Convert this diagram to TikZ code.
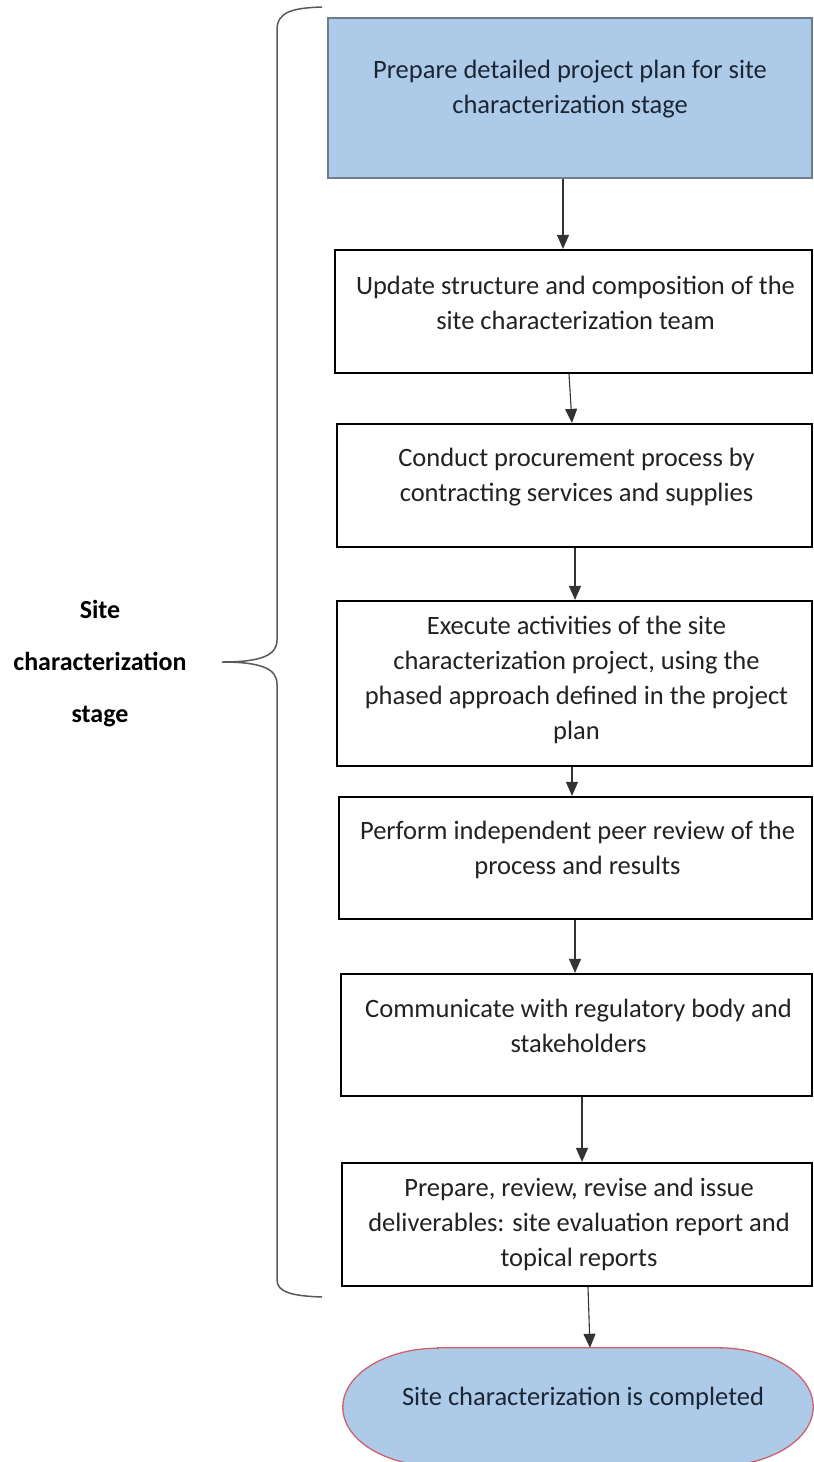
\documentclass[tikz,border=0pt]{standalone}
\usepackage{fontspec}
\setmainfont{Carlito}
\usetikzlibrary{arrows.meta}
\definecolor{planblue}{HTML}{ADCBE9}
\definecolor{planedge}{HTML}{6E7C8C}
\definecolor{endedge}{HTML}{D0606A}
\definecolor{inktext}{HTML}{1C2534}
\definecolor{boxtext}{HTML}{222222}
\begin{document}
\begin{tikzpicture}[x=1pt,y=-1pt,
  stepbox/.style={draw=black, line width=2.2pt, fill=white, inner sep=0pt},
  txt/.style={align=center, font=\fontsize{26.5}{35}\selectfont, text=boxtext, inner sep=0pt},
  arr/.style={draw=black!80, line width=1.1pt, -{Triangle[width=12pt,length=14pt]}},
  bracepen/.style={draw=black!65, line width=1.5pt}]
\useasboundingbox (0,0) rectangle (814,1462);
\clip (0,0) rectangle (814,1462);

% process steps
\node[stepbox, draw=planedge, line width=1.5pt, fill=planblue,
      minimum width=484pt, minimum height=160pt] (b1) at (570,98) {};
\node[stepbox, minimum width=477pt, minimum height=123pt] (b2) at (573.5,311.5) {};
\node[stepbox, minimum width=475pt, minimum height=123pt] (b3) at (574.5,485.5) {};
\node[stepbox, minimum width=475pt, minimum height=165pt] (b4) at (574.5,683.5) {};
\node[stepbox, minimum width=473pt, minimum height=122pt] (b5) at (575.5,858) {};
\node[stepbox, minimum width=471pt, minimum height=122pt] (b6) at (576.5,1035) {};
\node[stepbox, minimum width=470pt, minimum height=123pt] (b7) at (577,1224.5) {};

% step texts
\node[txt, text=inktext] (t1) at ([xshift=0pt,yshift=8.5pt]b1.center)
  {Prepare detailed project plan for site\\characterization stage};
\node[txt] (t2) at ([xshift=2pt,yshift=9pt]b2.center)
  {Update structure and composition of the\\site characterization team};
\node[txt] (t3) at ([xshift=2pt,yshift=8.5pt]b3.center)
  {Conduct procurement process by\\contracting services and supplies};
\node[txt] (t4) at ([xshift=2pt,yshift=4pt]b4.center)
  {Execute activities of the site\\characterization project, using the\\phased approach defined in the project\\plan};
\node[txt] (t5) at ([xshift=2pt,yshift=8.5pt]b5.center)
  {Perform independent peer review of the\\process and results};
\node[txt] (t6) at ([xshift=2pt,yshift=9.5pt]b6.center)
  {Communicate with regulatory body and\\stakeholders};
\node[txt] (t7) at ([xshift=2pt,yshift=0pt]b7.center)
  {Prepare, review, revise and issue\\deliverables: site evaluation report and\\topical reports};

% final state
\node[inner sep=0pt, minimum width=470pt, minimum height=118pt] (done) at (578,1407) {};
\path[fill=planblue, draw=endedge, line width=1.3pt]
  ([xshift=95pt]done.north west) -- ([xshift=-95pt]done.north east)
  arc[start angle=-90, end angle=90, x radius=95, y radius=59]
  -- ([xshift=95pt]done.south west)
  arc[start angle=90, end angle=270, x radius=95, y radius=59] -- cycle;
\node[txt, text=inktext] (donetext) at ([xshift=5pt,yshift=9pt]done.center)
  {Site characterization is completed};

% connectors
\draw[arr] ([xshift=-7pt]b1.south) -- ([xshift=-7pt]b1.south |- b2.north);
\draw[arr] ([xshift=-4.5pt]b2.south) -- ([xshift=-2.5pt]b3.north);
\draw[arr] ([xshift=0.5pt]b3.south) -- ([xshift=0.5pt]b4.north);
\draw[arr] ([xshift=-2.5pt]b4.south) -- ([xshift=-3.5pt]b5.north);
\draw[arr] ([xshift=-0.5pt]b5.south) -- ([xshift=-1.5pt]b6.north);
\draw[arr] ([xshift=5.5pt]b6.south) -- ([xshift=5pt]b7.north);
\draw[arr] ([xshift=11pt]b7.south) -- ([xshift=12pt]done.north);

% stage brace and its label
\draw[bracepen] (322,7) .. controls (292,8) and (277,12) .. (277,30)
  -- (277,640) .. controls (277,655) and (262,662) .. (222,662)
  .. controls (262,662) and (277,669) .. (277,684)
  -- (277,1280) .. controls (277,1292) and (292,1296) .. (322,1297);
\node[align=center, inner sep=0pt, font=\bfseries\fontsize{26}{52}\selectfont] (stage)
  at (100,664) {Site\\characterization\\stage};
\end{tikzpicture}
\end{document}
